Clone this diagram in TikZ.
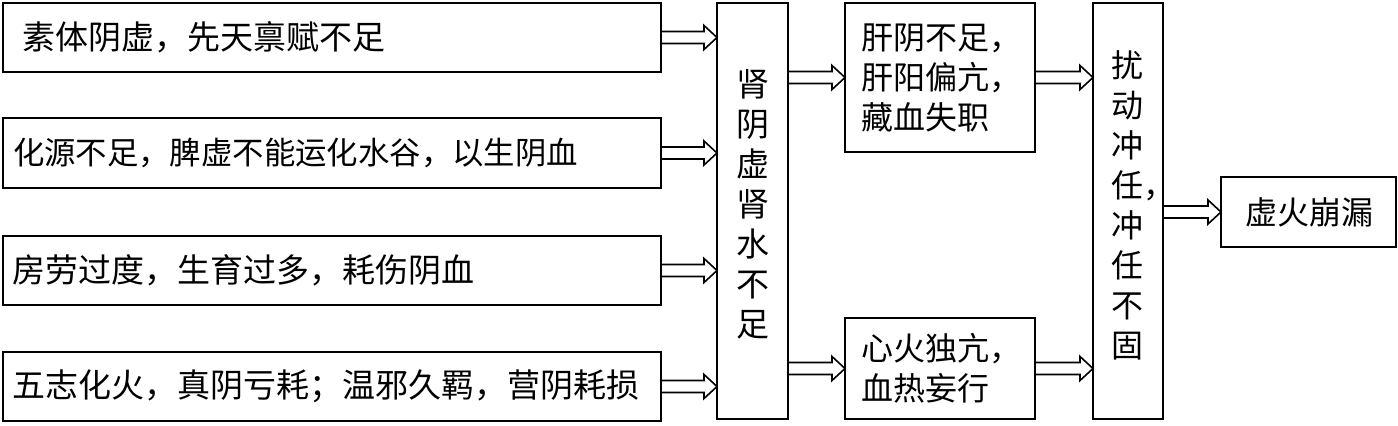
\documentclass[tikz,border=0pt]{standalone}
\usepackage{fontspec}
\newfontfamily\cjk{Noto Sans CJK SC}
\usetikzlibrary{calc}
\tikzset{
  box/.style={draw=black, line width=1.4pt, rectangle, inner sep=0pt, outer sep=0pt, anchor=north west},
  txt/.style={inner sep=0pt, outer sep=0pt, text=black, font=\cjk\fontsize{16.5}{20}\selectfont},
  txtb/.style={txt, font=\cjk\fontsize{15.7}{20}\selectfont},
  txts/.style={txt, font=\cjk\fontsize{16}{20}\selectfont},
  arrowline/.style={draw=black, line width=0.8pt, line join=miter},
}
\newcommand\harr[3]{%
  \path (#1.east |- #3.center) coordinate (hA) (#2.west |- #3.center) coordinate (hB);
  \draw[arrowline] ($(hA)+(0,6)$) -- ($(hB)+(-13,6)$) -- ($(hB)+(-13,12)$) -- (hB)
    -- ($(hB)+(-13,-12)$) -- ($(hB)+(-13,-6)$) -- ($(hA)+(0,-6)$);}
\begin{document}
\begin{tikzpicture}[x=0.5pt,y=-0.5pt]
\useasboundingbox (0,0) rectangle (1398,425);
% boxes
\node[box, minimum width=329pt, minimum height=34.5pt] (b1) at (3,3) {};
\node[box, minimum width=329pt, minimum height=35pt] (b2) at (3,118) {};
\node[box, minimum width=329pt, minimum height=34.5pt] (b3) at (3,236) {};
\node[box, minimum width=329pt, minimum height=34.5pt] (b4) at (3,352) {};
\node[box, minimum width=35.5pt, minimum height=208pt] (kid) at (717,3) {};
\node[box, minimum width=95pt, minimum height=74.5pt] (gan) at (845,3) {};
\node[box, minimum width=95pt, minimum height=50.5pt] (xin) at (845,318) {};
\node[box, minimum width=35pt, minimum height=208pt] (rao) at (1093,3) {};
\node[box, minimum width=87.5pt, minimum height=35pt] (xu) at (1221,177) {};
% texts
\node[txt, anchor=west] (t1) at (22,37.5) {素体阴虚，先天禀赋不足};
\node[txtb, anchor=west] (t2) at (13,153) {化源不足，脾虚不能运化水谷，以生阴血};
\node[txt, anchor=west] (t3) at (12,270.5) {房劳过度，生育过多，耗伤阴血};
\node[txt, anchor=west] (t4) at (12,386.5) {五志化火，真阴亏耗；温邪久羁，营阴耗损};
\node[txt, align=center] (kidt) at (752.5,204) {肾\\阴\\虚\\肾\\水\\不\\足};
\node[txts, anchor=west, align=left] (gant) at (861,77.5) {肝阴不足，\\肝阳偏亢，\\藏血失职};
\node[txts, anchor=west, align=left] (xint) at (861,368.5) {心火独亢，\\血热妄行};
\node[txts, align=center] (raot) at (1127.5,205) {扰\\动\\冲\\任\rlap{，}\\冲\\任\\不\\固};
\node[txts] (xut) at (1309,212) {虚火崩漏};
% arrows
\harr{b1}{kid}{b1}
\harr{b2}{kid}{b2}
\harr{b3}{kid}{b3}
\harr{b4}{kid}{b4}
\harr{kid}{gan}{gan}
\harr{kid}{xin}{xin}
\harr{gan}{rao}{gan}
\harr{xin}{rao}{xin}
\harr{rao}{xu}{xu}
\end{tikzpicture}
\end{document}
